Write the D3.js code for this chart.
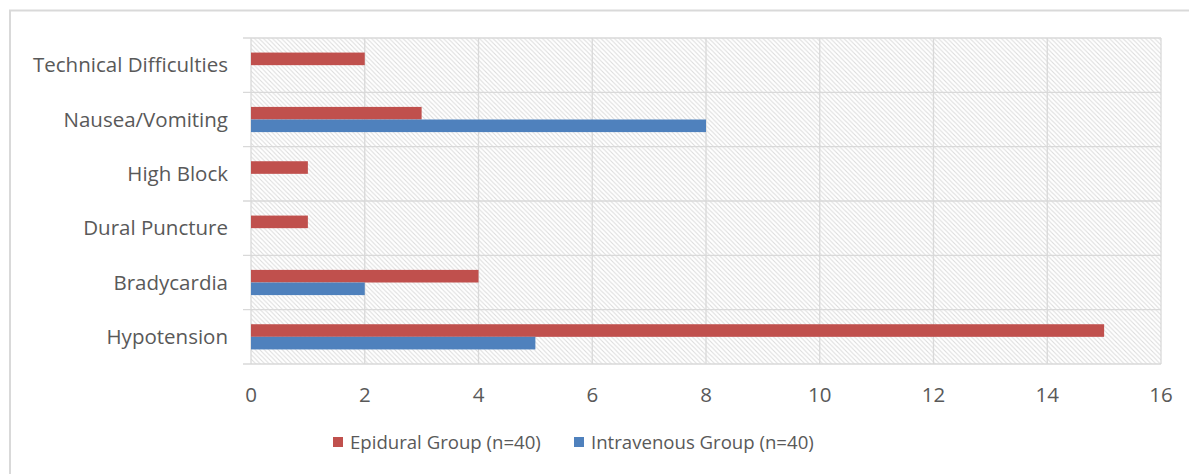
<!DOCTYPE html>
<html lang="en">
<head>
  <meta charset="UTF-8">
  <title>Complications by group</title>
  <script src="https://d3js.org/d3.v7.min.js"></script>
  <style>
    body {
      margin: 0;
      background: #fff;
      font-family: "Open Sans", sans-serif;
    }
    .grid line {
      stroke: #d9d9d9;
      stroke-width: 1.3;
    }
    .tick-label {
      fill: #595959;
      font-size: 20.5px;
    }
    .legend-label {
      fill: #595959;
      font-size: 18.6px;
    }
  </style>
</head>
<body>
  <svg id="chart" width="1189" height="474"></svg>

  <script>
    // categories, top to bottom as drawn
    const categories = ["Technical Difficulties", "Nausea/Vomiting", "High Block",
                        "Dural Puncture", "Bradycardia", "Hypotension"];
    const epidural    = [2, 3, 1, 1, 4, 15];
    const intravenous = [0, 8, 0, 0, 2, 5];
    const seriesNames = ["Epidural Group (n=40)", "Intravenous Group (n=40)"];
    const seriesColors = ["#c0504d", "#4f81bd"];
    const xTicks = [0, 2, 4, 6, 8, 10, 12, 14, 16];

    const svg = d3.select("#chart");
    const plot = { left: 251, right: 1161, top: 38, bottom: 364 };

    // outer chart border (top and left visible)
    svg.append("path")
      .attr("d", "M10,474 V10.5 H1189")
      .attr("fill", "none")
      .attr("stroke", "#d9d9d9")
      .attr("stroke-width", 2);

    const x = d3.scaleLinear().domain([0, 16]).range([plot.left, plot.right]);
    const y = d3.scaleBand().domain(categories).range([plot.top, plot.bottom]);
    const barH = 12.6;

    // hatched background
    const defs = svg.append("defs");
    const pat = defs.append("pattern")
      .attr("id", "hatch")
      .attr("patternUnits", "userSpaceOnUse")
      .attr("width", 4.5).attr("height", 4.5);
    pat.append("rect").attr("width", 4.5).attr("height", 4.5).attr("fill", "#fff");
    pat.append("path")
      .attr("d", "M-1,-1 L5.5,5.5 M-1,3.5 L1,5.5 M3.5,-1 L5.5,1")
      .attr("stroke", "#dcdcdc")
      .attr("stroke-width", 1);

    svg.append("rect")
      .attr("x", plot.left).attr("y", plot.top)
      .attr("width", plot.right - plot.left)
      .attr("height", plot.bottom - plot.top)
      .attr("fill", "url(#hatch)");

    // gridlines
    const grid = svg.append("g").attr("class", "grid");
    grid.selectAll(".vline")
      .data(xTicks)
      .join("line")
      .attr("x1", d => x(d)).attr("x2", d => x(d))
      .attr("y1", plot.top).attr("y2", plot.bottom);

    const bounds = categories.map(c => y(c)).concat([plot.bottom]);
    grid.selectAll(".hline")
      .data(bounds)
      .join("line")
      .attr("x1", plot.left - 8).attr("x2", plot.right)
      .attr("y1", d => d).attr("y2", d => d);

    // bars
    const rows = categories.map((c, i) => ({ cat: c, vals: [epidural[i], intravenous[i]] }));
    const barG = svg.append("g");
    rows.forEach(r => {
      const mid = y(r.cat) + y.bandwidth() / 2;
      r.vals.forEach((v, k) => {
        if (!v) return;
        barG.append("rect")
          .attr("x", x(0))
          .attr("y", mid - barH + k * barH)
          .attr("width", x(v) - x(0))
          .attr("height", barH)
          .attr("fill", seriesColors[k]);
      });
    });

    // category labels
    svg.append("g").selectAll("text")
      .data(categories)
      .join("text")
      .attr("class", "tick-label")
      .attr("x", 228)
      .attr("y", d => y(d) + y.bandwidth() / 2)
      .attr("dy", "0.35em")
      .attr("text-anchor", "end")
      .text(d => d);

    // x tick labels
    svg.append("g").selectAll("text")
      .data(xTicks)
      .join("text")
      .attr("class", "tick-label")
      .attr("x", d => x(d))
      .attr("y", 395)
      .attr("dy", "0.35em")
      .attr("text-anchor", "middle")
      .text(d => d);

    // legend
    const legendX = [333, 574];
    const lg = svg.append("g");
    seriesNames.forEach((name, k) => {
      lg.append("rect")
        .attr("x", legendX[k]).attr("y", 437)
        .attr("width", 10).attr("height", 10)
        .attr("fill", seriesColors[k]);
      lg.append("text")
        .attr("class", "legend-label")
        .attr("x", legendX[k] + 17)
        .attr("y", 442)
        .attr("dy", "0.35em")
        .text(name);
    });
  </script>
</body>
</html>
